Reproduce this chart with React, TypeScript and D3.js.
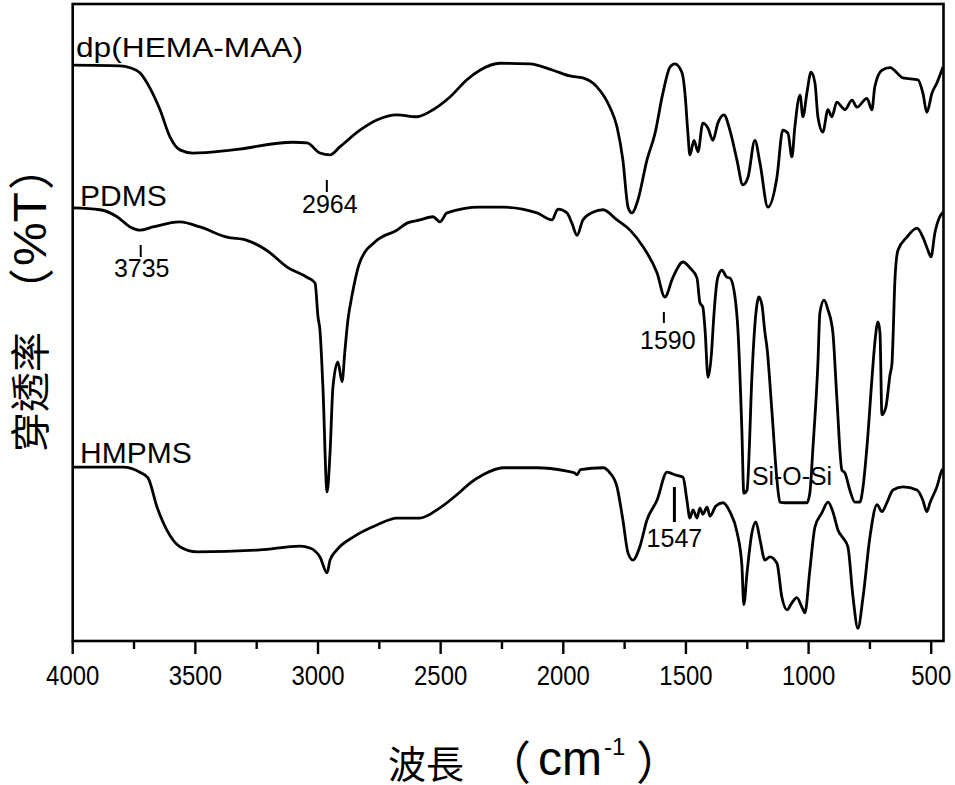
import React from 'react';
import * as d3 from 'd3';

// wavenumber (cm-1), transmittance (arbitrary, offset per trace)
const hemaMaa = [
  [4000, 90.4], [3807, 90.3], [3766, 90.0], [3726, 89.2], [3685, 86.8], [3644, 83.4], [3603, 79.1], [3563, 77.1],
  [3510, 76.6], [3347, 77.1], [3102, 78.3], [3045, 78.2], [2992, 76.6], [2951, 76.3], [2910, 77.6], [2829, 80.2],
  [2760, 81.8], [2678, 82.6], [2597, 82.3], [2531, 83.4], [2462, 85.4], [2393, 88.1], [2340, 89.6], [2258, 90.7],
  [2136, 90.6], [2042, 89.6], [1973, 88.7], [1920, 88.4], [1863, 87.0], [1810, 83.8], [1781, 80.7], [1757, 75.5],
  [1736, 68.1], [1720, 67.2], [1696, 69.2], [1659, 75.5], [1626, 79.7], [1594, 86.0], [1565, 90.1], [1545, 90.6],
  [1516, 89.2], [1504, 86.0], [1492, 79.7], [1484, 76.3], [1467, 78.6], [1451, 76.8], [1431, 81.3], [1410, 80.5],
  [1390, 78.6], [1370, 81.3], [1345, 82.6], [1321, 80.2], [1292, 75.5], [1268, 71.6], [1247, 72.8], [1219, 78.6],
  [1198, 75.0], [1166, 68.1], [1129, 72.8], [1105, 80.2], [1084, 79.7], [1068, 76.0], [1056, 80.7], [1035, 85.7],
  [1023, 82.3], [1007, 86.0], [990, 89.3], [974, 87.6], [962, 82.3], [942, 79.9], [921, 83.4], [905, 82.3],
  [885, 84.6], [864, 83.8], [852, 83.4], [823, 84.9], [803, 83.8], [762, 85.2], [742, 83.4], [730, 87.0],
  [701, 89.6], [668, 90.0], [615, 88.4], [554, 88.1], [534, 86.0], [518, 83.0], [497, 86.0], [477, 87.6], [452, 90.1],
];

const pdms = [
  [4000, 68.0], [3889, 67.7], [3819, 66.6], [3766, 65.0], [3726, 64.5], [3673, 65.0], [3563, 65.8], [3481, 65.0],
  [3371, 63.4], [3290, 62.9], [3208, 61.3], [3126, 58.7], [3045, 57.1], [3012, 56.2], [3000, 50.9], [2992, 48.8],
  [2980, 39.9], [2963, 23.4], [2951, 29.5], [2939, 39.9], [2919, 43.8], [2902, 40.7], [2890, 45.7], [2878, 50.4],
  [2861, 54.3], [2829, 59.5], [2760, 62.9], [2678, 64.5], [2637, 65.6], [2584, 66.1], [2531, 66.6], [2503, 65.8],
  [2474, 67.2], [2340, 68.1], [2246, 68.1], [2107, 67.2], [2046, 66.1], [2022, 67.8], [1985, 67.2], [1965, 65.6],
  [1944, 63.7], [1920, 66.1], [1879, 67.3], [1838, 67.7], [1781, 66.1], [1728, 64.5], [1675, 61.9], [1618, 57.8],
  [1586, 54.0], [1553, 57.1], [1512, 59.5], [1484, 58.6], [1455, 57.0], [1443, 53.1], [1431, 52.4], [1422, 48.8],
  [1410, 41.4], [1394, 46.2], [1390, 48.8], [1370, 57.1], [1353, 58.2], [1333, 57.1], [1321, 57.0], [1300, 54.0],
  [1288, 48.8], [1272, 33.1], [1264, 23.2], [1251, 23.7], [1239, 33.1], [1235, 37.7], [1223, 47.3], [1211, 52.7],
  [1203, 54.0], [1190, 52.7], [1178, 48.4], [1170, 46.2], [1149, 35.8], [1129, 25.3], [1117, 21.8], [1096, 21.7],
  [1007, 21.7], [995, 23.2], [982, 30.5], [962, 43.6], [954, 51.5], [937, 53.5], [921, 52.0], [901, 48.4],
  [885, 38.3], [864, 26.8], [852, 26.4], [832, 23.7], [811, 21.8], [791, 21.8], [778, 24.2], [762, 30.5],
  [742, 41.0], [730, 46.8], [717, 50.1], [709, 48.4], [701, 35.5], [685, 36.7], [668, 41.8], [660, 43.6],
  [656, 47.3], [648, 56.7], [636, 61.3], [599, 63.4], [558, 64.8], [534, 63.4], [513, 61.3], [501, 60.3],
  [485, 64.1], [465, 66.6], [452, 67.3],
];

const hmpms = [
  [4000, 27.3], [3795, 27.3], [3726, 26.5], [3693, 25.6], [3656, 21.0], [3616, 17.4], [3563, 14.8], [3493, 14.0],
  [3237, 14.3], [3073, 14.9], [3033, 14.6], [2992, 13.2], [2963, 10.7], [2951, 12.7], [2923, 14.3], [2857, 16.3],
  [2760, 18.2], [2678, 19.3], [2584, 19.3], [2503, 20.9], [2421, 23.4], [2380, 24.8], [2327, 26.1], [2246, 27.2],
  [2107, 27.2], [1990, 26.7], [1955, 26.4], [1944, 26.1], [1930, 26.9], [1838, 27.2], [1810, 26.4], [1781, 24.2],
  [1757, 19.0], [1736, 13.8], [1716, 12.7], [1688, 14.8], [1659, 19.0], [1618, 22.1], [1577, 26.5], [1565, 26.4],
  [1545, 26.1], [1512, 25.7], [1496, 22.1], [1484, 19.3], [1471, 20.6], [1455, 19.3], [1443, 20.9], [1431, 19.9],
  [1414, 21.0], [1402, 19.6], [1378, 21.2], [1349, 21.7], [1321, 20.3], [1292, 17.1], [1272, 11.9], [1264, 5.7],
  [1251, 10.7], [1231, 17.0], [1215, 18.7], [1198, 15.9], [1178, 12.7], [1158, 13.2], [1129, 12.2], [1109, 6.9],
  [1088, 4.9], [1068, 6.0], [1048, 6.8], [1027, 5.3], [1015, 4.4], [995, 11.1], [974, 17.9], [946, 20.1],
  [921, 21.8], [901, 20.3], [880, 17.4], [860, 16.2], [840, 14.8], [819, 6.9], [799, 2.0], [778, 6.9],
  [750, 16.3], [721, 21.4], [701, 20.3], [681, 21.7], [656, 23.7], [615, 24.2], [558, 23.7], [534, 22.1],
  [518, 20.3], [505, 21.7], [477, 24.2], [456, 26.8], [452, 27.0],
];

const majorTicks = [4000, 3500, 3000, 2500, 2000, 1500, 1000, 500];
const minorTicks = [3750, 3250, 2750, 2250, 1750, 1250, 750];
const peakMarks = [3735, 2964, 1590, 1547];

const W = 955;
const H = 785;
const m = { l: 72.7, r: 943.5, t: 4, b: 641 };

const sans = '"Liberation Sans", Arial, Helvetica, sans-serif';
const cjk = '"Noto Sans CJK TC", "Noto Sans CJK JP", sans-serif';

export default function App() {
  const x = d3.scaleLinear().domain([4000, 450]).range([m.l, m.r]);
  const y = d3.scaleLinear().domain([0, 100]).range([m.b, m.t]);
  const path = d3
    .line<number[]>()
    .x((d) => x(d[0]))
    .y((d) => y(d[1]))
    .curve(d3.curveMonotoneX);

  const [m3735, m2964, m1590, m1547] = peakMarks;

  return (
    <svg width={W} height={H} style={{ position: 'absolute', left: 0, top: 0, background: '#fff' }}>
      <rect x={0} y={0} width={W} height={H} fill="#fff" />
      <g fill="none" stroke="#000" strokeWidth={2.8} strokeLinejoin="round">
        <path d={path(hemaMaa) || ''} />
        <path d={path(pdms) || ''} />
        <path d={path(hmpms) || ''} />
      </g>

      {/* frame */}
      <rect x={m.l} y={m.t} width={m.r - m.l} height={m.b - m.t} fill="none" stroke="#000" strokeWidth={2.6} />

      {/* x ticks */}
      <g stroke="#000" strokeWidth={2.4}>
        {majorTicks.map((t) => (
          <line key={t} x1={x(t)} x2={x(t)} y1={m.b} y2={m.b + 13} />
        ))}
        {minorTicks.map((t) => (
          <line key={t} x1={x(t)} x2={x(t)} y1={m.b} y2={m.b + 8} />
        ))}
      </g>
      <g fontFamily={sans} fontSize={28} textAnchor="middle">
        {majorTicks.map((t) => (
          <text key={t} x={x(t)} y={685} textLength={String(t).length * 13.3} lengthAdjust="spacingAndGlyphs">
            {t}
          </text>
        ))}
      </g>

      {/* series labels */}
      <g fontFamily={sans} fill="#000">
        <text x={76} y={57} fontSize={28} textLength={227} lengthAdjust="spacingAndGlyphs">dp(HEMA-MAA)</text>
        <text x={80} y={206} fontSize={30}>PDMS</text>
        <text x={80} y={463} fontSize={30}>HMPMS</text>
      </g>

      {/* peak marks */}
      <g stroke="#000" strokeWidth={2}>
        <line x1={x(m3735) + 3} x2={x(m3735) + 3} y1={245} y2={257} />
        <line x1={x(m2964)} x2={x(m2964)} y1={180} y2={192} />
        <line x1={x(m1590)} x2={x(m1590)} y1={312} y2={323} />
        <line x1={x(m1547)} x2={x(m1547)} y1={487} y2={522} strokeWidth={3} />
      </g>
      <g fontFamily={sans} fontSize={25} textAnchor="middle">
        <text x={x(m3735) + 4} y={277}>3735</text>
        <text x={x(m2964) + 3} y={213}>2964</text>
        <text x={x(m1590) + 4} y={349}>1590</text>
        <text x={x(m1547)} y={547}>1547</text>
        <text x={792} y={485} fontSize={26} textLength={80} lengthAdjust="spacingAndGlyphs">Si-O-Si</text>
      </g>

      {/* x title */}
      <g fill="#000">
        <text x={388} y={778} fontFamily={cjk} fontSize={38}>波長</text>
        <text x={531} y={779} fontFamily={cjk} fontSize={46} textAnchor="end">（</text>
        <text x={538} y={775} fontFamily={sans} fontSize={48}>cm</text>
        <text x={604} y={755} fontFamily={sans} fontSize={24}>-1</text>
        <text x={636} y={779} fontFamily={cjk} fontSize={46}>）</text>
      </g>

      {/* y title */}
      <g transform="translate(28,0) rotate(-90)" fill="#000">
        <text x={-452} y={0} fontFamily={cjk} fontSize={40} dominantBaseline="central">穿透率</text>
        <text x={-268} y={0} fontFamily={cjk} fontSize={46} textAnchor="end" dominantBaseline="central">（</text>
        <text x={-266} y={2} fontFamily={sans} fontSize={46} textLength={74} lengthAdjust="spacingAndGlyphs" dominantBaseline="central">%T</text>
        <text x={-190} y={0} fontFamily={cjk} fontSize={46} dominantBaseline="central">）</text>
      </g>
    </svg>
  );
}
